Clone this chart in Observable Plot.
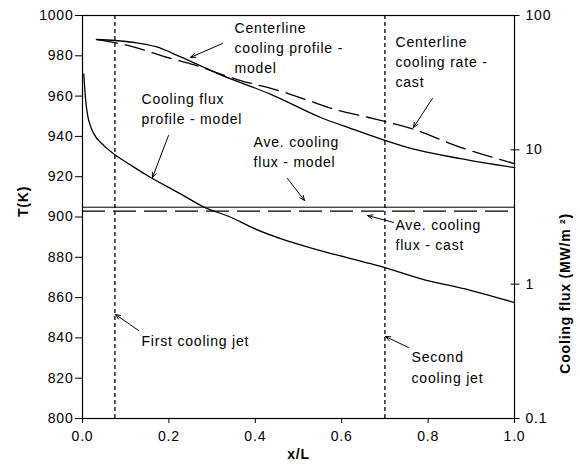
<!DOCTYPE html>
<html><head><meta charset="utf-8">
<script src="https://cdn.jsdelivr.net/npm/d3@7"></script>
<script src="https://cdn.jsdelivr.net/npm/@observablehq/plot@0.6"></script>
<style>
body{margin:0;background:#fff}
</style></head><body><div id="chart"></div>
<script>
// Axis domains and ticks
const tDomain = [800, 1000];
const fluxDomain = [0.1, 100];
const xTicks = [0, 0.2, 0.4, 0.6, 0.8, 1.0];
const tTicks = [800, 820, 840, 860, 880, 900, 920, 940, 960, 980, 1000];
const fluxTicks = [0.1, 1, 10, 100];

// Centerline cooling profile - model (T, K)
const xCenterModel = [0.032, 0.076, 0.12, 0.17, 0.227, 0.32, 0.435, 0.55, 0.62, 0.70, 0.76, 0.875, 1.0];
const tCenterModel = [988.1, 987.6, 986.6, 984.5, 979.5, 970.5, 961, 949.5, 944, 938, 934, 929, 924.5];

// Centerline cooling rate - cast
const xCenterCast = [0.035, 0.111, 0.204, 0.25, 0.366, 0.45, 0.52, 0.59, 0.66, 0.76, 0.875, 1.0];
const tCenterCast = [988, 984.8, 978.7, 976, 967.7, 963, 958, 953, 949.5, 944, 934.6, 926.5];

// Cooling flux profile - model (MW/m2)
const xFluxModel = [0.003, 0.007, 0.012, 0.018, 0.026, 0.049, 0.072, 0.11, 0.15, 0.227, 0.281, 0.343, 0.397, 0.474, 0.551, 0.667, 0.70, 0.782, 0.898, 1.0];
const fluxModel = [36.7, 24, 18, 15.2, 13.2, 10.8, 9.35, 7.76, 6.44, 4.70, 3.75, 3.15, 2.6, 2.1, 1.78, 1.42, 1.33, 1.10, 0.90, 0.73];

// Average cooling flux (MW/m2)
const aveFluxModel = 3.74;
const aveFluxCast = 3.5;

// Cooling jet positions (x/L)
const jetX = [0.075, 0.7];

// Annotations (data coordinates: x/L, T)
const labelText = ["Centerline\ncooling profile -\nmodel", "Centerline\ncooling rate -\ncast", "Cooling flux\nprofile - model", "Ave. cooling\nflux - model", "Ave. cooling\nflux - cast", "First cooling jet", "Second\ncooling jet"];
const labelX = [0.352, 0.7245, 0.1366, 0.396, 0.7245, 0.1366, 0.7616];
const labelT = [984.6, 977.7, 954.3, 933, 891.8, 839.2, 826];
const arrowX1 = [0.324, 0.810, 0.199, 0.4745, 0.72, 0.1296, 0.7546];
const arrowT1 = [986.1, 958.8, 940.4, 919.1, 897.3, 843.7, 835.2];
const arrowX2 = [0.25, 0.766, 0.162, 0.514, 0.66, 0.0764, 0.7014];
const arrowT2 = [979.2, 944.4, 919.6, 908.2, 900.7, 851.6, 840.7];

// map the right (log flux) axis onto the left (T) axis
const lf0 = Math.log10(fluxDomain[0]), lf1 = Math.log10(fluxDomain[1]);
const tFromFlux = f => tDomain[0] + (Math.log10(f) - lf0) / (lf1 - lf0) * (tDomain[1] - tDomain[0]);
const fluxFromT = t => Math.pow(10, lf0 + (t - tDomain[0]) / (tDomain[1] - tDomain[0]) * (lf1 - lf0));
const fmtFlux = f => f >= 1 ? String(Math.round(f)) : String(Math.round(f * 10) / 10);

const centerModel = xCenterModel.map((x, i) => ({x, y: tCenterModel[i]}));
const centerCast = xCenterCast.map((x, i) => ({x, y: tCenterCast[i]}));
const fluxLine = xFluxModel.map((x, i) => ({x, y: tFromFlux(fluxModel[i])}));
const labels = labelText.map((text, i) => ({text, x: labelX[i], y: labelT[i]}));
const arrows = arrowX1.map((x1, i) => ({x1, y1: arrowT1[i], x2: arrowX2[i], y2: arrowT2[i]}));

const chart = Plot.plot({
  width: 580, height: 468,
  marginLeft: 82, marginRight: 66, marginTop: 15, marginBottom: 50,
  style: {fontFamily: "'Liberation Sans', Arial, sans-serif", fontSize: "14px", letterSpacing: "0.8px", background: "#fff", color: "#000"},
  x: {domain: [0, 1]},
  y: {domain: tDomain},
  marks: [
    Plot.ruleX(jetX, {stroke: "#000", strokeWidth: 1.3, strokeDasharray: "4,3"}),
    Plot.ruleY([tFromFlux(aveFluxModel)], {stroke: "#000", strokeWidth: 1}),
    Plot.ruleY([tFromFlux(aveFluxCast)], {stroke: "#000", strokeWidth: 1.3, strokeDasharray: "23,8"}),
    Plot.line(centerModel, {x: "x", y: "y", stroke: "#000", strokeWidth: 1.3, curve: "monotone-x"}),
    Plot.line(centerCast, {x: "x", y: "y", stroke: "#000", strokeWidth: 1.3, strokeDasharray: "20,8", curve: "monotone-x"}),
    Plot.line(fluxLine, {x: "x", y: "y", stroke: "#000", strokeWidth: 1.3, curve: "monotone-x"}),
    Plot.frame({stroke: "#000", strokeWidth: 1.2}),
    Plot.axisX({ticks: xTicks, tickFormat: d3.format(".1f"), tickSize: 5, tickPadding: 8, label: null}),
    Plot.axisY({ticks: tTicks, tickFormat: d => String(d), tickSize: 7, tickPadding: 2, label: null}),
    Plot.axisY({anchor: "right", ticks: fluxTicks.map(tFromFlux), tickFormat: d => fmtFlux(fluxFromT(d)), tickSize: 9, dx: -4.5, tickPadding: 6.5, label: null}),
    Plot.arrow(arrows, {x1: "x1", y1: "y1", x2: "x2", y2: "y2", stroke: "#000", strokeWidth: 1, headLength: 8, headAngle: 45}),
    Plot.text(labels, {x: "x", y: "y", text: "text", textAnchor: "start", lineAnchor: "middle", lineHeight: 1.45, fill: "#000"}),
    Plot.text(["T(K)"], {frameAnchor: "left", dx: -59, rotate: -90, fontWeight: "bold", fill: "#000"}),
    Plot.text(["Cooling flux (MW/m \u00b2)"], {frameAnchor: "right", dx: 51, dy: -4, rotate: -90, fontWeight: "bold", fill: "#000"}),
    Plot.text(["x/L"], {frameAnchor: "bottom", dy: 40, fontWeight: "bold", fill: "#000"})
  ]
});
document.getElementById("chart").append(chart);
</script></body></html>
